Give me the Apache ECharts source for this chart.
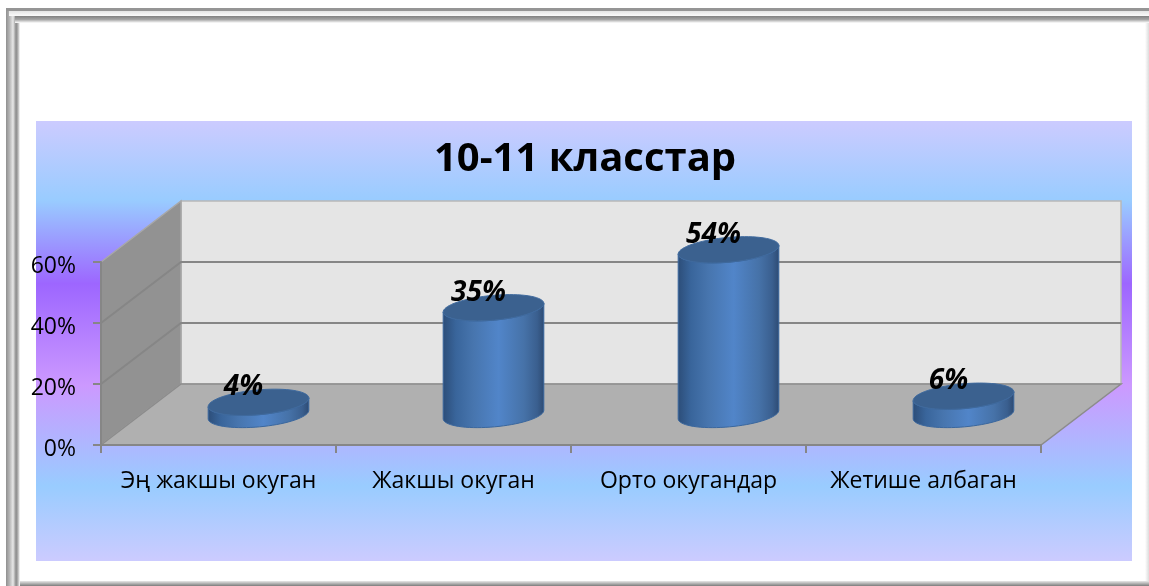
<!DOCTYPE html>
<html>
<head>
<meta charset="utf-8">
<style>
  html, body { margin: 0; padding: 0; background: #fff; }
  #chart { width: 1149px; height: 586px; }
</style>
<script src="https://cdn.jsdelivr.net/npm/echarts@6/dist/echarts.min.js"></script>
</head>
<body>
<div id="chart"></div>
<script>
const titleText = '10-11 класстар';
const categories = ['Эң жакшы окуган', 'Жакшы окуган', 'Орто окугандар', 'Жетише албаган'];
const values = [4, 35, 54, 6];
const yTicks = [0, 20, 40, 60];

// fake 3d: how far the back wall sits from the front of the floor
const depthX = 80;
const depthY = -61;

const font = '"Open Sans", "Noto Sans", sans-serif';
const myChart = echarts.init(document.getElementById('chart'));

function hGrad(stops) {
  return new echarts.graphic.LinearGradient(0, 0, 1, 0, stops);
}
function vGrad(stops) {
  return new echarts.graphic.LinearGradient(0, 0, 0, 1, stops);
}

// walls, floor and wall gridlines, hung off the axes
function renderRoom(params, api) {
  const x0 = params.coordSys.x;
  const x1 = x0 + params.coordSys.width;
  const y0 = api.coord([0, 0])[1];
  const yTop = api.coord([0, yTicks[yTicks.length - 1]])[1];
  const children = [
    {
      type: 'polygon',
      shape: { points: [[x0 + depthX, yTop + depthY], [x1 + depthX, yTop + depthY], [x1 + depthX, y0 + depthY], [x0 + depthX, y0 + depthY]] },
      style: { fill: '#e5e5e5', stroke: '#b8b8b8', lineWidth: 1.5 }
    },
    {
      type: 'polygon',
      shape: { points: [[x0, y0], [x0, yTop], [x0 + depthX, yTop + depthY], [x0 + depthX, y0 + depthY]] },
      style: { fill: '#929292', stroke: '#a8a8a8', lineWidth: 1.5 }
    },
    {
      type: 'polygon',
      shape: { points: [[x0, y0], [x0 + depthX, y0 + depthY], [x1 + depthX, y0 + depthY], [x1, y0]] },
      style: { fill: '#b0b0b0', stroke: '#8c8c8c', lineWidth: 1.5 }
    }
  ];
  yTicks.forEach(function (t) {
    // 0 is the floor, and the top tick is the wall edge
    if (t === 0 || t === yTicks[yTicks.length - 1]) return;
    const y = api.coord([0, t])[1];
    children.push({
      type: 'polyline',
      shape: { points: [[x0, y], [x0 + depthX, y + depthY], [x1 + depthX, y + depthY]] },
      style: { fill: null, stroke: '#868686', lineWidth: 2 }
    });
  });
  return { type: 'group', children: children };
}

function ellipsePoint(cx, cy, rx, ry, tilt, a) {
  const ex = rx * Math.cos(a);
  const ey = ry * Math.sin(a);
  return [cx + ex * Math.cos(tilt) - ey * Math.sin(tilt), cy + ex * Math.sin(tilt) + ey * Math.cos(tilt)];
}

function renderCylinder(params, api) {
  const top = api.coord([api.value(0), api.value(1)]);
  const base = api.coord([api.value(0), 0]);
  const band = api.size([1, 0])[0];
  const cx = base[0] + depthX / 2;
  const topY = top[1] + depthY / 2;
  const baseY = base[1] + depthY / 2;
  const rx = band * 0.215;
  const ry = rx * 0.245;
  const tilt = -0.09;
  const side = [];
  // right rim down, round the front of the base, left rim back up
  for (let i = 0; i <= 36; i++) {
    side.push(ellipsePoint(cx, baseY, rx, ry, tilt, Math.PI * i / 36));
  }
  for (let i = 36; i >= 0; i--) {
    side.push(ellipsePoint(cx, topY, rx, ry, tilt, Math.PI * i / 36));
  }
  const lid = [];
  for (let i = 0; i < 72; i++) {
    lid.push(ellipsePoint(cx, topY, rx, ry, tilt, Math.PI * i / 36));
  }
  return {
    type: 'group',
    children: [
      {
        type: 'polygon',
        shape: { points: side },
        style: {
          fill: hGrad([
            { offset: 0, color: '#2c4d78' },
            { offset: 0.13, color: '#39659b' },
            { offset: 0.3, color: '#4775ae' },
            { offset: 0.55, color: '#5185c9' },
            { offset: 0.8, color: '#4672a8' },
            { offset: 0.93, color: '#3a5f8f' },
            { offset: 1, color: '#2d4a72' }
          ]),
          stroke: '#3a679e',
          lineWidth: 1
        }
      },
      {
        type: 'polygon',
        shape: { points: lid },
        style: { fill: '#3b618f', stroke: '#3f6a9e', lineWidth: 1 }
      },
      {
        type: 'text',
        style: {
          text: api.value(1) + '%',
          x: cx - 15,
          y: topY - 15,
          align: 'center',
          verticalAlign: 'middle',
          font: 'italic bold 28px ' + font,
          fill: '#000'
        }
      }
    ]
  };
}

// the slide frame: double bevelled grey border
function frameBar(x, y, w, h, fill) {
  return { type: 'rect', shape: { x: x, y: y, width: w, height: h }, style: { fill: fill } };
}
const edgeH = [
  { offset: 0, color: '#8f8f8f' },
  { offset: 0.25, color: '#b5b5b5' },
  { offset: 0.5, color: '#e8e8e8' },
  { offset: 0.72, color: '#8a8a8a' },
  { offset: 0.85, color: '#b0b0b0' },
  { offset: 1, color: '#ffffff' }
];

const option = {
  animation: false,
  backgroundColor: '#ffffff',
  title: {
    text: titleText,
    left: 580,
    top: 135,
    textAlign: 'center',
    textStyle: { fontFamily: font, fontSize: 40, fontWeight: 'bold', color: '#000' }
  },
  grid: { left: 101, top: 262, width: 940, height: 183 },
  xAxis: {
    type: 'category',
    data: categories,
    z: 5,
    axisLine: { lineStyle: { color: '#868686', width: 2 } },
    axisTick: { show: true, length: 8, lineStyle: { color: '#868686', width: 2 } },
    axisLabel: { interval: 0, margin: 25, fontFamily: font, fontSize: 23, color: '#000' }
  },
  yAxis: {
    type: 'value',
    min: 0,
    max: 60,
    interval: 20,
    z: 5,
    splitLine: { show: false },
    axisLine: { show: true, lineStyle: { color: '#868686', width: 2 } },
    axisTick: { show: true, length: 8, lineStyle: { color: '#868686', width: 2 } },
    axisLabel: {
      margin: 25,
      formatter: '{pct|{value}%}',
      rich: {
        pct: { padding: [9, 0, 0, 0], fontFamily: font, fontSize: 23, color: '#000' }
      }
    }
  },
  graphic: [
    {
      type: 'group',
      silent: true,
      z: -10,
      children: [
        {
          type: 'rect',
          shape: { x: 36, y: 121, width: 1096, height: 440 },
          style: {
            fill: vGrad([
              { offset: 0, color: '#cccbff' },
              { offset: 0.18, color: '#99ccff' },
              { offset: 0.37, color: '#9d66ff' },
              { offset: 0.6, color: '#cc99ff' },
              { offset: 0.83, color: '#99ccff' },
              { offset: 1, color: '#cccbff' }
            ])
          }
        },
        frameBar(6, 8, 14, 578, hGrad(edgeH)),
        frameBar(6, 8, 1143, 3, '#959595'),
        frameBar(9, 11, 1140, 5, vGrad([{ offset: 0, color: '#e4e4e4' }, { offset: 1, color: '#fafafa' }])),
        frameBar(15, 16, 1134, 7, vGrad([
          { offset: 0, color: '#808080' },
          { offset: 0.5, color: '#a4a4a4' },
          { offset: 1, color: '#ffffff' }
        ])),
        frameBar(1145, 23, 4, 559, hGrad([{ offset: 0, color: '#ffffff' }, { offset: 1, color: '#dcdcdc' }])),
        frameBar(20, 581, 1129, 5, vGrad([
          { offset: 0, color: '#e8e8e8' },
          { offset: 0.6, color: '#a8a8a8' },
          { offset: 1, color: '#7c7c7c' }
        ]))
      ]
    }
  ],
  series: [
    {
      type: 'custom',
      z: 1,
      silent: true,
      renderItem: renderRoom,
      data: [[0, 0]],
      encode: { x: 0, y: 1 }
    },
    {
      type: 'custom',
      z: 6,
      renderItem: renderCylinder,
      data: values.map(function (v, i) { return [i, v]; }),
      encode: { x: 0, y: 1 }
    }
  ]
};

myChart.setOption(option);
</script>
</body>
</html>
